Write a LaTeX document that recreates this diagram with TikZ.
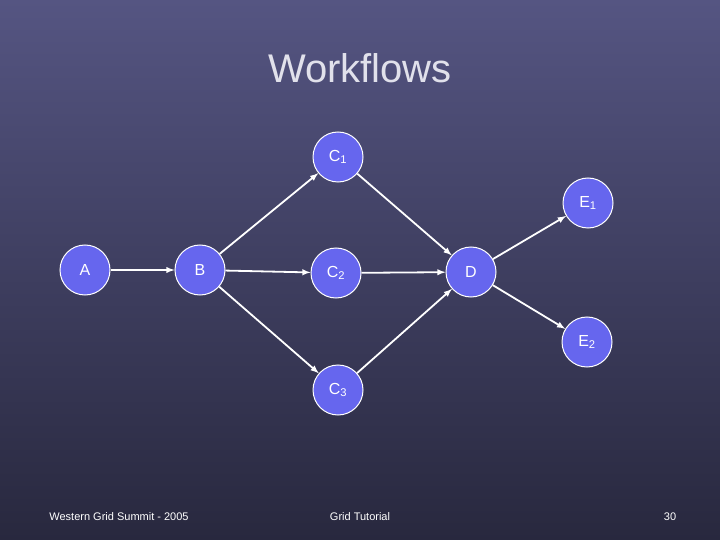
\documentclass[tikz,border=0pt]{standalone}
\usepackage{fontspec}
\setmainfont{Liberation Sans}
\begin{document}
\begin{tikzpicture}[x=1pt,y=-1pt,
  nd/.style={circle,draw=white,line width=1pt,fill={rgb,255:red,102;green,102;blue,238},text=white,minimum size=50pt,inner sep=0pt,font=\fontsize{16}{18}\selectfont},
  ar/.style={draw=white,line width=1.8pt,-latex},
  ft/.style={text=white,font=\fontsize{11}{13}\selectfont}]
\shade[top color={rgb,255:red,85;green,85;blue,130},bottom color={rgb,255:red,40;green,40;blue,62}] (0,0) rectangle (720,540);
\useasboundingbox (0,0) rectangle (720,540);
\node[text={rgb,255:red,225;green,225;blue,235},font=\fontsize{40}{44}\selectfont] (t) at (360,68) {Workflows};
\node[nd] (A) at (85,270) {A};
\node[nd] (B) at (200,270) {B};
\node[nd] (C1) at (338,157) {C\textsubscript{1}};
\node[nd] (C2) at (336,273) {C\textsubscript{2}};
\node[nd] (C3) at (338,390) {C\textsubscript{3}};
\node[nd] (D) at (471,272) {D};
\node[nd] (E1) at (588,203) {E\textsubscript{1}};
\node[nd] (E2) at (587,342) {E\textsubscript{2}};
\draw[ar] (A)--(B);
\draw[ar] (B)--(C1);
\draw[ar] (B)--(C2);
\draw[ar] (B)--(C3);
\draw[ar] (C1)--(D);
\draw[ar] (C2)--(D);
\draw[ar] (C3)--(D);
\draw[ar] (D)--(E1);
\draw[ar] (D)--(E2);
\node[ft] (f1) at (119,517) {Western Grid Summit - 2005};
\node[ft] (f2) at (360,517) {Grid Tutorial};
\node[ft] (f3) at (670,517) {30};
\end{tikzpicture}
\end{document}
